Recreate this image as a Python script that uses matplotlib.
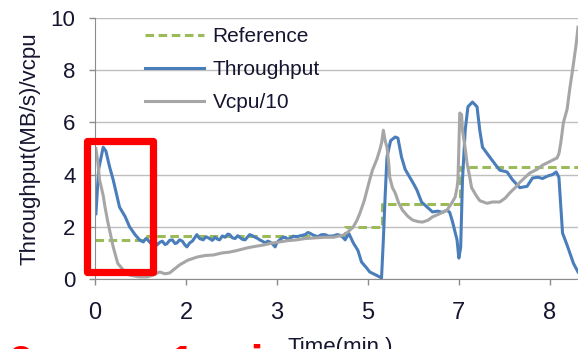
import matplotlib
matplotlib.use('Agg')
import matplotlib.pyplot as plt
from matplotlib.patches import Rectangle

plt.rcParams['font.family'] = ['Liberation Sans', 'DejaVu Sans']

# category axis: six evenly spaced ticks labelled with minutes
tick_labels = ['0', '2', '3', '5', '7', '8']

# reference setpoint (step changes)
ref_x = [0.0, 0.57, 2.75, 3.16, 4.01, 5.31]
ref_y = [1.5, 1.65, 2.0, 2.87, 4.3, 4.3]

# measured throughput
thr_x = [0.01, 0.04, 0.09, 0.12, 0.16, 0.20, 0.24, 0.27, 0.33, 0.38, 0.44, 0.49,
         0.53, 0.56, 0.58, 0.61, 0.63, 0.66, 0.68, 0.71, 0.74, 0.77, 0.79, 0.82,
         0.85, 0.88, 0.90, 0.93, 0.96, 0.99, 1.01, 1.04, 1.07, 1.10, 1.12, 1.15,
         1.19, 1.22, 1.26, 1.29, 1.32, 1.35, 1.37, 1.40, 1.43, 1.46, 1.48, 1.51,
         1.54, 1.57, 1.59, 1.62, 1.65, 1.68, 1.70, 1.73, 1.76, 1.79, 1.81, 1.84,
         1.87, 1.90, 1.92, 1.95, 1.98, 2.00, 2.03, 2.06, 2.09, 2.12, 2.14, 2.18,
         2.22, 2.26, 2.31, 2.34, 2.36, 2.40, 2.45, 2.49, 2.53, 2.57, 2.62, 2.66,
         2.69, 2.72, 2.75, 2.79, 2.84, 2.89, 2.93, 2.98, 3.02, 3.09, 3.15, 3.17,
         3.19, 3.21, 3.25, 3.30, 3.33, 3.37, 3.41, 3.46, 3.51, 3.54, 3.59, 3.65,
         3.71, 3.77, 3.82, 3.87, 3.90, 3.93, 3.98, 4.00, 4.02, 4.04, 4.07, 4.10,
         4.15, 4.20, 4.23, 4.26, 4.34, 4.42, 4.45, 4.53, 4.59, 4.67, 4.75, 4.81,
         4.87, 4.92, 4.98, 5.03, 5.07, 5.10, 5.14, 5.19, 5.22, 5.26, 5.31]
thr_y = [2.5, 4.2, 5.05, 4.9, 4.3, 3.8, 3.2, 2.75, 2.4, 2.0, 1.7, 1.5,
         1.42, 1.55, 1.5, 1.38, 1.35, 1.45, 1.3, 1.4, 1.45, 1.32, 1.35, 1.48,
         1.5, 1.36, 1.38, 1.5, 1.45, 1.3, 1.23, 1.38, 1.45, 1.6, 1.7, 1.55,
         1.5, 1.62, 1.55, 1.48, 1.6, 1.52, 1.5, 1.65, 1.6, 1.72, 1.7, 1.58,
         1.55, 1.66, 1.6, 1.52, 1.5, 1.62, 1.7, 1.66, 1.6, 1.55, 1.5, 1.45,
         1.38, 1.45, 1.42, 1.35, 1.23, 1.4, 1.5, 1.58, 1.6, 1.52, 1.55, 1.64,
         1.62, 1.66, 1.7, 1.78, 1.76, 1.68, 1.62, 1.7, 1.7, 1.64, 1.65, 1.7,
         1.68, 1.62, 1.5, 1.75, 1.38, 1.1, 0.65, 0.45, 0.27, 0.15, 0.04, 1.5,
         3.2, 4.67, 5.3, 5.44, 5.4, 4.67, 4.2, 3.9, 3.6, 3.4, 2.95, 2.76,
         2.57, 2.6, 2.55, 2.64, 2.55, 2.2, 1.5, 0.8, 1.2, 3.8, 5.7, 6.6,
         6.78, 6.6, 5.7, 5.05, 4.67, 4.3, 4.17, 4.1, 3.8, 3.5, 3.55, 3.87,
         3.9, 3.85, 3.95, 4.0, 4.1, 3.9, 1.76, 1.3, 1.0, 0.6, 0.27]

# vcpu count scaled by 1/10
cpu_x = [0.01, 0.03, 0.05, 0.09, 0.11, 0.14, 0.16, 0.20, 0.25, 0.31, 0.38, 0.49,
         0.57, 0.64, 0.71, 0.77, 0.82, 0.88, 0.93, 1.02, 1.12, 1.21, 1.30, 1.40,
         1.48, 1.57, 1.67, 1.76, 1.85, 1.95, 2.03, 2.12, 2.22, 2.31, 2.40, 2.53,
         2.62, 2.73, 2.78, 2.84, 2.88, 2.91, 2.96, 2.99, 3.02, 3.05, 3.10, 3.13,
         3.15, 3.17, 3.19, 3.21, 3.23, 3.24, 3.27, 3.30, 3.34, 3.38, 3.44, 3.49,
         3.55, 3.60, 3.66, 3.71, 3.79, 3.87, 3.92, 3.96, 3.98, 3.99, 4.00, 4.01,
         4.03, 4.04, 4.07, 4.09, 4.12, 4.14, 4.19, 4.23, 4.31, 4.37, 4.45, 4.51,
         4.56, 4.62, 4.67, 4.73, 4.78, 4.86, 4.92, 5.00, 5.08, 5.10, 5.12, 5.15,
         5.19, 5.22, 5.25, 5.29, 5.31]
cpu_y = [5.0, 4.5, 3.8, 3.2, 2.76, 2.2, 1.88, 1.23, 0.6, 0.35, 0.15, 0.08,
         0.08, 0.15, 0.27, 0.2, 0.23, 0.4, 0.54, 0.72, 0.84, 0.9, 0.92, 1.0,
         1.03, 1.1, 1.19, 1.25, 1.3, 1.38, 1.42, 1.47, 1.5, 1.55, 1.57, 1.6,
         1.6, 1.68, 1.8, 2.0, 2.25, 2.5, 3.0, 3.4, 3.8, 4.17, 4.6, 4.94,
         5.2, 5.7, 5.3, 5.05, 4.4, 3.9, 3.5, 3.3, 2.9, 2.64, 2.4, 2.26,
         2.2, 2.18, 2.25, 2.38, 2.5, 2.64, 2.9, 3.14, 3.5, 3.8, 5.0, 6.36,
         6.3, 5.7, 5.0, 4.44, 3.9, 3.5, 3.2, 3.0, 2.9, 2.95, 2.95, 3.1,
         3.3, 3.5, 3.7, 3.9, 4.06, 4.2, 4.36, 4.5, 4.64, 4.8, 5.2, 6.0,
         6.5, 7.3, 8.0, 9.0, 9.65]

fig = plt.figure(figsize=(5.78, 3.49), dpi=100)
ax = fig.add_axes([95 / 578, 70 / 349, 483 / 578, 261 / 349])

ax.plot(ref_x, ref_y, drawstyle='steps-post', color='#9bbb59', lw=2.2,
        dashes=(2.8, 1.5), label='Reference')
ax.plot(thr_x, thr_y, color='#4a7ebb', lw=2.2, label='Throughput')
ax.plot(cpu_x, cpu_y, color='#a6a6a6', lw=2.2, label='Vcpu/10')

ax.set_xlim(0, 5.31)
ax.set_ylim(0, 10)
ax.set_xticks(range(len(tick_labels)))
ax.set_xticklabels(tick_labels)
ax.set_yticks([0, 2, 4, 6, 8, 10])

ax.grid(axis='y', color='#bfbfbf', lw=1.0)
ax.set_axisbelow(True)
for side in ['top', 'right']:
    ax.spines[side].set_visible(False)
for side in ['left', 'bottom']:
    ax.spines[side].set_color('#8c8c8c')
ax.tick_params(axis='both', color='#8c8c8c', length=4.5, width=1,
               labelcolor='#151530')
ax.tick_params(axis='y', labelsize=16, pad=9.5)
ax.tick_params(axis='x', labelsize=17, pad=12)

ax.set_xlabel('Time(min.)', fontsize=16, color='#151530')
ax.xaxis.set_label_coords(0.507, -0.222)
ax.xaxis.label.set_va('top')
fig.text(30 / 578, 1 - 149 / 349, 'Throughput(MB/s)/vcpu', rotation=90,
         ha='center', va='center', fontsize=16, color='#151530')

leg = ax.legend(loc='upper left', bbox_to_anchor=(145 / 578, 1 - 27 / 349),
                bbox_transform=fig.transFigure, frameon=False, fontsize=15,
                handlelength=2.85, handletextpad=0.4, labelspacing=0.68,
                borderpad=0, borderaxespad=0)
for t in leg.get_texts():
    t.set_color('#151530')

# highlight box around the start-up transient
ax.add_patch(Rectangle((-0.09, 0.25), 0.73, 5.02, fill=False, ec='#ff0000',
                       lw=5.2, joinstyle='round', clip_on=False, zorder=5))

# caption below the chart (mostly outside the canvas)
fig.text(8 / 578, -0.084, '0 sec ~', color='#ff0000', fontsize=34,
         fontweight='bold', ha='left', va='baseline')
fig.text(169 / 578, -0.084, '1 min', color='#ff0000', fontsize=34,
         fontweight='bold', ha='left', va='baseline')

fig.savefig('out.png', dpi=100)
